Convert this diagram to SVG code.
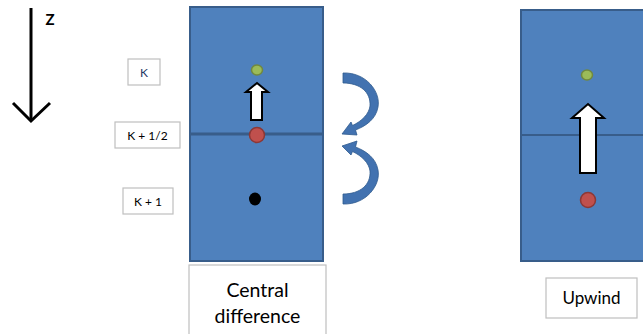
<svg xmlns="http://www.w3.org/2000/svg" width="643" height="334" viewBox="0 0 643 334">
  <style>
    .cell { fill: #4F81BD; stroke: #385D8A; stroke-width: 2; }
    .face { stroke: #385D8A; stroke-width: 3; }
    .face-thin { stroke: #385D8A; stroke-width: 2; }
    .lbl { fill: #FFFFFF; stroke: #BFBFBF; stroke-width: 1.2; }
    .txt { font-family: Lato, "Open Sans", sans-serif; fill: #000000; text-anchor: middle; }
    .green { fill: #9BBB59; stroke: #71893F; stroke-width: 1.5; }
    .red { fill: #C0504D; stroke: #8C3836; stroke-width: 1.5; }
    .flow { fill: #FFFFFF; stroke: #000000; stroke-width: 2; stroke-linejoin: miter; }
    .curl { fill: #4272B0; stroke: #2F5A8E; stroke-width: 0.8; }
  </style>

  <!-- vertical axis -->
  <g id="z-axis">
    <line x1="31" y1="8" x2="31" y2="121" stroke="#000" stroke-width="3"/>
    <polyline points="13,103 31,121 50,103" fill="none" stroke="#000" stroke-width="3"/>
    <text x="50" y="25" class="txt" font-size="15" font-weight="bold">Z</text>
  </g>

  <!-- level labels -->
  <g id="label-k">
    <rect x="128" y="59" width="32" height="26" class="lbl"/>
    <text x="144" y="77" class="txt" font-size="12" fill="#1F3864" style="fill:#1F3864">K</text>
  </g>
  <g id="label-k-half">
    <rect x="115" y="122" width="65" height="26" class="lbl"/>
    <text x="147.5" y="140" class="txt" font-size="12">K + 1/2</text>
  </g>
  <g id="label-k-1">
    <rect x="123" y="188" width="50" height="26" class="lbl"/>
    <text x="148" y="206" class="txt" font-size="12">K + 1</text>
  </g>

  <!-- central difference column -->
  <g id="central-column">
    <rect x="190" y="7" width="133" height="254" class="cell"/>
    <line x1="190" y1="134" x2="323" y2="134" class="face"/>
    <ellipse cx="257" cy="70" rx="5.5" ry="5" class="green"/>
    <path d="M251,120 L262,120 L262,92 L268,92 L257,83 L246,92 L251,92 Z" class="flow"/>
    <circle cx="257" cy="135" r="7.5" class="red"/>
    <ellipse cx="255" cy="199" rx="6" ry="6.5" fill="#000"/>
  </g>

  <!-- interpolation arrows -->
  <g id="connectors">
    <path class="curl" d="M343,73 C366,72 381,92 378,107 C376,119 366,126 355.5,130 L357,135 L342,134 L351,122 L352.5,125.5 C362,121 369,114 370,106 C371,92 360,83 343,83 Z"/>
    <path class="curl" d="M343,204 C366,205 381,185 378,170 C376,158 366,151 355.5,147 L357,141 L342,146 L351,155 L352.5,151.5 C362,156 369,163 370,171 C371,185 360,194 343,194 Z"/>
  </g>

  <g id="central-caption">
    <rect x="189" y="265" width="137" height="72" class="lbl"/>
    <text x="257.5" y="297" class="txt" font-size="19.5">Central</text>
    <text x="257.5" y="323" class="txt" font-size="19.5">difference</text>
  </g>

  <!-- upwind column -->
  <g id="upwind-column">
    <rect x="521" y="10" width="130" height="251" class="cell"/>
    <line x1="521" y1="135" x2="651" y2="135" class="face-thin"/>
    <ellipse cx="587" cy="75" rx="5.5" ry="5" class="green"/>
    <path d="M580,173 L596,173 L596,118 L604,118 L588,104 L572,118 L580,118 Z" class="flow"/>
    <circle cx="588" cy="200" r="7.5" class="red"/>
  </g>

  <g id="upwind-caption">
    <rect x="546" y="278" width="91" height="40" class="lbl"/>
    <text x="591.5" y="304" class="txt" font-size="17">Upwind</text>
  </g>
</svg>
